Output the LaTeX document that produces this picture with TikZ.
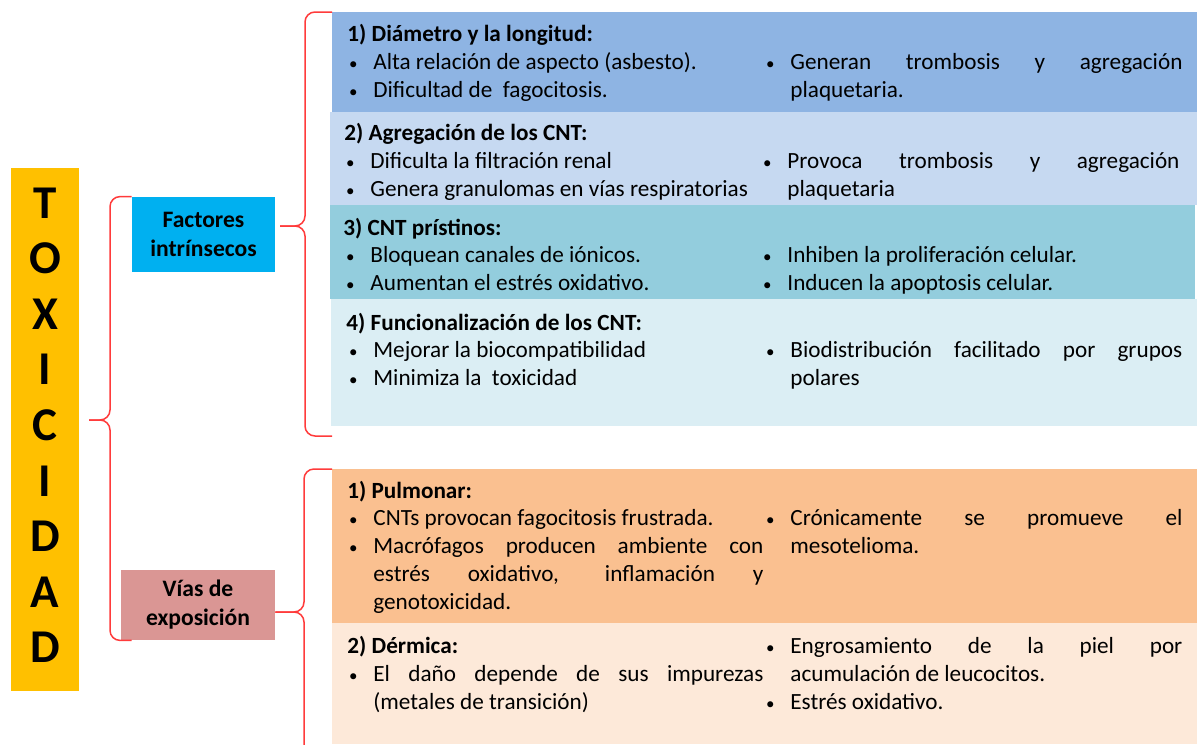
\documentclass[tikz,border=0pt]{standalone}
\usepackage{fontspec}
\setmainfont{Carlito}
\usepackage{tikz}
\definecolor{toxorange}{HTML}{FFC000}
\definecolor{factblue}{HTML}{00B0F0}
\definecolor{viasrose}{HTML}{DA9694}
\definecolor{dblue}{HTML}{8EB4E3}
\definecolor{ablue}{HTML}{C6D9F1}
\definecolor{cteal}{HTML}{93CDDD}
\definecolor{fteal}{HTML}{DBEEF4}
\definecolor{porange}{HTML}{FAC090}
\definecolor{dpeach}{HTML}{FDE9D9}
\definecolor{bracered}{HTML}{FF3B3B}
\newcommand{\fitm}{\noindent\llap{\makebox[20pt]{\fontsize{8.5}{8.5}\selectfont\textbullet}}}
\newcommand{\itm}{\par\fitm}
\tolerance=10000
\hyphenpenalty=10000
\hbadness=10000

\begin{document}
\begin{tikzpicture}[x=0.5pt,y=-0.5pt]
\tikzset{panel/.style = {anchor=north west,inner sep=0,outer sep=0}}
\tikzset{cat/.style = {inner sep=0,align=center,font=\bfseries\fontsize{11.8}{14.5}\selectfont}}
\tikzset{letter/.style = {anchor=base,inner sep=0,font=\bfseries\fontsize{23.5}{28}\selectfont}}
\tikzset{head/.style = {anchor=base west,inner sep=0,font=\bfseries\fontsize{11.6}{14}\selectfont}}
\tikzset{col/.style = {anchor=base west,inner sep=0,text width=#1,align=justify,font=\fontsize{11.6}{14}\selectfont},col/.default=195pt}
\tikzset{brc/.style = {draw=bracered,line width=0.75pt,rounded corners=5pt}}
\useasboundingbox (0,0) rectangle (1197,744);
% main box
\node[panel,fill=toxorange,minimum width=34pt,minimum height=261.5pt] (tox) at (11,168) {};
\foreach \l [count=\i from 0] in {T,O,X,I,C,I,D,A,D}
  \node[letter] (t\i) at (45,{218+55.6*\i}) {\l};
% categories
\node[cat,fill=factblue,minimum width=71.5pt,minimum height=37.5pt] (fi) at (203.5,234.5) {Factores\\intrínsecos};
\node[cat,fill=viasrose,minimum width=77pt,minimum height=35pt] (ve) at (198,605) {Vías de\\exposición};
% panels
\node[panel,fill=dblue,minimum width=432.5pt,minimum height=50pt] (p1) at (332,12) {};
\node[panel,fill=ablue,minimum width=433.5pt,minimum height=46.5pt] (p2) at (330,112) {};
\node[panel,fill=cteal,minimum width=432.5pt,minimum height=47pt] (p3) at (330,205) {};
\node[panel,fill=fteal,minimum width=433pt,minimum height=63.5pt] (p4) at (331,299) {};
\node[panel,fill=porange,minimum width=432.5pt,minimum height=77pt] (v1) at (332,469) {};
\node[panel,fill=dpeach,minimum width=432.5pt,minimum height=60.5pt] (v2) at (332,623) {};
% texts
\node[head] (p1h) at (347,41) {1) Diámetro y la longitud:};
\node[col] (p1l) at (373,69) {\fitm Alta relación de aspecto (asbesto).\itm Dificultad de\ \ fagocitosis.};
\node[col=196pt] (p1r) at (790,69) {\fitm Generan trombosis y agregación\linebreak plaquetaria.};
\node[head] (p2h) at (344,140) {2) Agregación de los CNT:};
\node[col] (p2l) at (370,168) {\fitm Dificulta la filtración renal\itm Genera granulomas en vías respiratorias};
\node[col=196pt] (p2r) at (787,168) {\fitm Provoca trombosis y agregación\linebreak plaquetaria};
\node[head] (p3h) at (343,235) {3) CNT prístinos:};
\node[col] (p3l) at (370,262) {\fitm Bloquean canales de iónicos.\itm Aumentan el estrés oxidativo.};
\node[col=196pt] (p3r) at (787,262) {\fitm Inhiben la proliferación celular.\itm Inducen la apoptosis celular.};
\node[head] (p4h) at (346,330) {4) Funcionalización de los CNT:};
\node[col] (p4l) at (373,357) {\fitm Mejorar la biocompatibilidad\itm Minimiza la\ \ toxicidad};
\node[col=196pt] (p4r) at (790,357) {\fitm Biodistribución facilitado por grupos\linebreak polares};
\node[head] (v1h) at (347,498) {1) Pulmonar:};
\node[col] (v1l) at (373,525) {\fitm CNTs provocan fagocitosis frustrada.\itm Macrófagos producen ambiente con\linebreak estrés oxidativo, inflamación y\linebreak genotoxicidad.};
\node[col=196pt] (v1r) at (790,525) {\fitm Crónicamente se promueve el\linebreak mesotelioma.};
\node[head] (v2h) at (347,653) {2) Dérmica:};
\node[col] (v2l) at (373,681) {\fitm El daño depende de sus impurezas\linebreak (metales de transición)};
\node[col=196pt] (v2r) at (790,653) {\fitm Engrosamiento de la piel por\linebreak acumulación de leucocitos.\itm Estrés oxidativo.};
% braces
\coordinate (b1) at (fi.west |- ve.south);
\coordinate (k1) at (110,420);
\coordinate (tip1) at (89,420);
\coordinate (b2) at (332,436);
\coordinate (k2) at (305,226);
\coordinate (tip2) at (280,226);
\coordinate (b3) at (332,760);
\coordinate (k3) at (304,612);
\coordinate (tip3) at (ve.east |- k3);
\draw[brc] (fi.north west) -| (k1) -- (tip1);
\draw[brc] (b1) -| (k1) -- (tip1);
\draw[brc] (p1.north west) -| (k2) -- (tip2);
\draw[brc] (b2) -| (k2) -- (tip2);
\draw[brc] (v1.north west) -| (k3) -- (tip3);
\draw[brc] (b3) -| (k3) -- (tip3);
\end{tikzpicture}
\end{document}
